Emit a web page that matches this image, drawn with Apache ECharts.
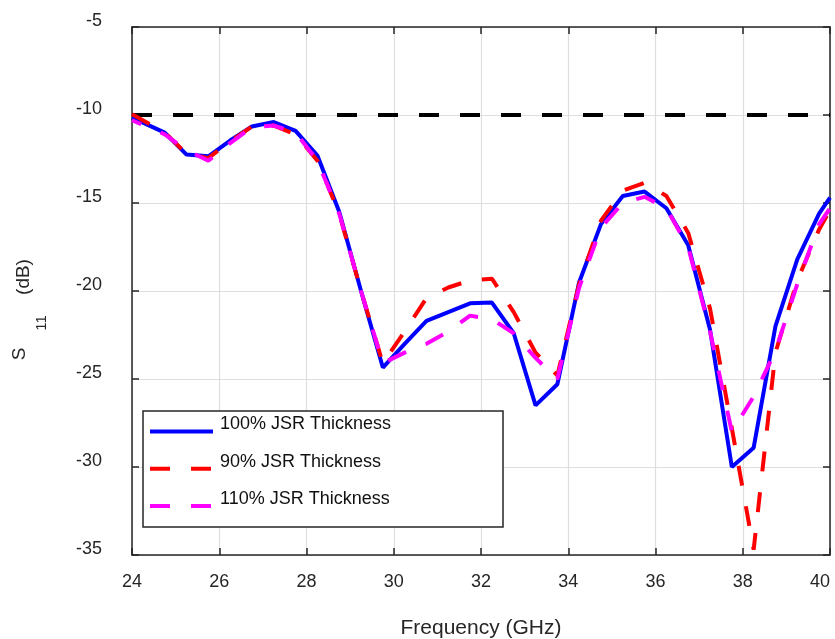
<!DOCTYPE html>
<html>
<head>
<meta charset="UTF-8">
<title>S11 vs frequency</title>
<script src="https://cdn.jsdelivr.net/npm/echarts@6/dist/echarts.min.js"></script>
<style>
html, body { margin: 0; padding: 0; background: #fff; }
#chart { width: 835px; height: 639px; }
</style>
</head>
<body>
<div id="chart"></div>
<script>
// frequency points (GHz)
var freq = [24, 24.75, 25.25, 25.75, 26.25, 26.75, 27.25, 27.75, 28.25, 28.75,
    29.25, 29.75, 30.25, 30.75, 31.25, 31.75, 32.25, 32.75, 33.25, 33.75,
    34.25, 34.75, 35.25, 35.75, 36.25, 36.75, 37.25, 37.75, 38.25, 38.75,
    39.25, 39.75, 40];
// S11 (dB)
var s100 = [-10.15, -11.0, -12.25, -12.35, -11.45, -10.65, -10.4, -10.9, -12.3, -15.5,
    -20.0, -24.35, -23.0, -21.7, -21.2, -20.7, -20.66, -22.4, -26.5, -25.3,
    -19.5, -16.2, -14.6, -14.35, -15.3, -17.4, -22.2, -30.0, -28.9, -22.0,
    -18.2, -15.6, -14.7];
var s90 = [-9.95, -11.0, -12.2, -12.45, -11.5, -10.65, -10.6, -11.1, -12.6, -15.6,
    -20.0, -24.1, -22.3, -20.4, -19.8, -19.4, -19.3, -21.2, -23.5, -24.8,
    -19.6, -16.0, -14.3, -13.85, -14.6, -16.7, -21.0, -27.8, -34.7, -23.5,
    -19.4, -16.5, -15.4];
var s110 = [-10.3, -11.1, -12.0, -12.6, -11.6, -10.7, -10.6, -11.0, -12.6, -15.6,
    -20.0, -24.1, -23.5, -23.0, -22.3, -21.4, -21.6, -22.4, -23.8, -25.0,
    -19.8, -16.4, -15.0, -14.65, -15.3, -17.5, -22.3, -28.0, -26.0, -23.4,
    -19.6, -16.2, -15.3];
var limitX = [24, 40];
var limitY = -10;
var names = ['100% JSR Thickness', '90% JSR Thickness', '110% JSR Thickness'];
var colors = ['#0000ff', '#ff0000', '#ff00ff'];

function pairs(xs, ys) {
    var out = [];
    for (var i = 0; i < xs.length; i++) out.push([xs[i], ys[i]]);
    return out;
}

var font = 'Liberation Sans';
var ink = '#262626';
var dash = [20, 21];

var chart = echarts.init(document.getElementById('chart'));

var tick = { show: true, inside: true, length: 7, lineStyle: { color: ink, width: 1.5 } };
var axLine = { show: true, onZero: false, lineStyle: { color: ink, width: 1.5 } };

// legend drawn by hand (MATLAB style box)
var legendItems = [{
    type: 'rect', z: 3,
    shape: { x: 143, y: 411, width: 360, height: 116 },
    style: { fill: '#fff', stroke: ink, lineWidth: 1.5 }
}];
names.forEach(function (n, i) {
    var ly = 431.5 + i * 37.3;
    legendItems.push({
        type: 'line', z: 4,
        shape: { x1: 150, y1: ly, x2: 213, y2: ly },
        style: { stroke: colors[i], lineWidth: 4, lineDash: i === 0 ? null : dash }
    });
    legendItems.push({
        type: 'text', z: 4, x: 220, y: ly - 7,
        style: { text: n, fontSize: 18, fill: '#111', fontFamily: font, textVerticalAlign: 'middle' }
    });
});

chart.setOption({
    animation: false,
    backgroundColor: '#fff',
    grid: { left: 132, right: 5, top: 27, bottom: 84, outerBoundsMode: 'none', containLabel: false },
    xAxis: [{
        type: 'value', min: 24, max: 40, interval: 2,
        axisLine: axLine, axisTick: tick,
        axisLabel: { fontSize: 18, color: ink, fontFamily: font, margin: 18, alignMaxLabel: 'right' },
        splitLine: { show: true, lineStyle: { color: '#dedede', width: 1.2 } },
        name: 'Frequency (GHz)', nameLocation: 'middle', nameGap: 63,
        nameTextStyle: { fontSize: 21, color: ink, fontFamily: font }
    }, {
        type: 'value', min: 24, max: 40, interval: 2, position: 'top',
        axisLine: axLine, axisTick: tick, axisLabel: { show: false }, splitLine: { show: false }
    }],
    yAxis: [{
        type: 'value', min: -35, max: -5, interval: 5,
        axisLine: axLine, axisTick: tick,
        axisLabel: { fontSize: 18, color: ink, fontFamily: font, margin: 30, verticalAlign: 'bottom', lineHeight: 11 },
        splitLine: { show: true, lineStyle: { color: '#dedede', width: 1.2 } }
    }, {
        type: 'value', min: -35, max: -5, interval: 5, position: 'right',
        axisLine: axLine, axisTick: tick, axisLabel: { show: false }, splitLine: { show: false }
    }],
    graphic: legendItems.concat([
        { type: 'text', x: 20, y: 354, rotation: Math.PI / 2,
          style: { text: 'S', fontSize: 19, fill: ink, fontFamily: font, textAlign: 'center', textVerticalAlign: 'middle' } },
        { type: 'text', x: 42, y: 323, rotation: Math.PI / 2,
          style: { text: '11', fontSize: 15, fill: ink, fontFamily: font, textAlign: 'center', textVerticalAlign: 'middle' } },
        { type: 'text', x: 24, y: 277, rotation: Math.PI / 2,
          style: { text: '(dB)', fontSize: 19, fill: ink, fontFamily: font, textAlign: 'center', textVerticalAlign: 'middle' } }
    ]),
    series: [
        {
            name: 'limit', type: 'line', symbol: 'none', silent: true,
            data: [[limitX[0], limitY], [limitX[1], limitY]],
            lineStyle: { color: '#000', width: 4, type: dash }
        },
        {
            name: names[0], type: 'line', symbol: 'none',
            data: pairs(freq, s100),
            lineStyle: { color: colors[0], width: 4 }
        },
        {
            name: names[1], type: 'line', symbol: 'none',
            data: pairs(freq, s90),
            lineStyle: { color: colors[1], width: 4, type: dash }
        },
        {
            name: names[2], type: 'line', symbol: 'none',
            data: pairs(freq, s110),
            lineStyle: { color: colors[2], width: 4, type: dash, dashOffset: 10 }
        }
    ]
});
</script>
</body>
</html>
